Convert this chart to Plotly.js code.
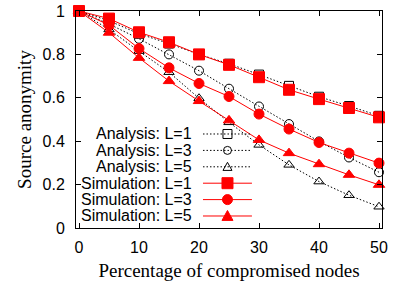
<!DOCTYPE html>
<html>
<head>
<meta charset="utf-8">
<script src="https://cdn.plot.ly/plotly-3.0.1.min.js"></script>
<style>html,body{margin:0;padding:0;background:#fff;}#chart{width:395px;height:288px;}</style>
</head>
<body>
<div id="chart"></div>
<script>
// Data
var compromised = [0, 5, 10, 15, 20, 25, 30, 35, 40, 45, 50];
var analysisL1 = [1, 0.955, 0.895, 0.85, 0.80, 0.757, 0.707, 0.655, 0.605, 0.562, 0.517];
var analysisL3 = [1, 0.94, 0.872, 0.80, 0.725, 0.642, 0.56, 0.479, 0.399, 0.325, 0.257];
var analysisL5 = [1, 0.915, 0.815, 0.718, 0.598, 0.487, 0.383, 0.291, 0.214, 0.151, 0.098];
var simulationL1 = [1, 0.965, 0.902, 0.856, 0.80, 0.752, 0.695, 0.637, 0.594, 0.553, 0.51];
var simulationL3 = [1, 0.935, 0.827, 0.738, 0.666, 0.606, 0.525, 0.456, 0.394, 0.345, 0.299];
var simulationL5 = [1, 0.90, 0.784, 0.677, 0.585, 0.496, 0.406, 0.345, 0.294, 0.245, 0.199];
var seriesNames = ["Analysis: L=1", "Analysis: L=3", "Analysis: L=5",
                   "Simulation: L=1", "Simulation: L=3", "Simulation: L=5"];
var xTitle = "Percentage of compromised nodes";
var yTitle = "Source anonymity";

var RED = "rgb(255,0,0)";
var DOTS = "1.5px,2px";
var series = [
  {y: analysisL1, sym: "square-open", size: 9, color: "black", dash: DOTS, kind: "rect", open: true},
  {y: analysisL3, sym: "circle-open", size: 9, color: "black", dash: DOTS, kind: "circle", open: true},
  {y: analysisL5, sym: "triangle-up-open", size: 9, color: "black", dash: DOTS, kind: "tri", open: true},
  {y: simulationL1, sym: "square", size: 11, color: RED, dash: "solid", kind: "rect", open: false},
  {y: simulationL3, sym: "circle", size: 10, color: RED, dash: "solid", kind: "circle", open: false},
  {y: simulationL5, sym: "triangle-up", size: 10, color: RED, dash: "solid", kind: "tri", open: false}
];

var traces = series.map(function (s, i) {
  return {
    x: compromised, y: s.y, name: seriesNames[i], type: "scatter", mode: "lines+markers",
    line: {color: s.color, width: 1, dash: s.dash},
    marker: {symbol: s.sym, size: s.size, color: s.color, line: {color: s.color, width: 1}},
    cliponaxis: false, showlegend: false
  };
});

// manual gnuplot-style key: text on the left, sample on the right
var keyTextX = 0.382, keyLineX0 = 0.415, keyLineX1 = 0.575, keyMarkX = 0.495;
var keyRows = [0.4332, 0.3576, 0.2820, 0.2065, 0.1309, 0.0553];
var annotations = [], shapes = [];
series.forEach(function (s, i) {
  var yr = keyRows[i];
  annotations.push({xref: "paper", yref: "paper", x: keyTextX, y: yr, xanchor: "right", yanchor: "middle",
    text: seriesNames[i], showarrow: false, borderpad: 0,
    font: {family: "Liberation Sans, Arial, sans-serif", size: 16, color: "black"}});
  shapes.push({type: "line", xref: "paper", yref: "paper", x0: keyLineX0, x1: keyLineX1, y0: yr, y1: yr,
    line: {color: s.color, width: 1, dash: s.dash}, layer: "above"});
  var fill = s.open ? "rgba(0,0,0,0)" : s.color;
  var r = s.open ? 4.5 : 5.5;
  var base = {xref: "paper", yref: "paper", xsizemode: "pixel", ysizemode: "pixel", xanchor: keyMarkX, yanchor: yr,
    fillcolor: fill, line: {color: s.color, width: 1}, layer: "above"};
  if (s.kind === "rect") {
    shapes.push(Object.assign({type: "rect", x0: -r, x1: r, y0: -r, y1: r}, base));
  } else if (s.kind === "circle") {
    shapes.push(Object.assign({type: "circle", x0: -r + 0.5, x1: r - 0.5, y0: -r + 0.5, y1: r - 0.5}, base));
  } else {
    shapes.push(Object.assign({type: "path", path: "M" + (-r) + "," + (-r * 0.8) + " L" + r + "," + (-r * 0.8) + " L0," + r + " Z"}, base));
  }
});

var axisCommon = {
  showline: true, linecolor: "black", linewidth: 1, mirror: "ticks",
  ticks: "inside", ticklen: 5, tickwidth: 1, tickcolor: "black",
  showgrid: false, zeroline: false,
  tickfont: {family: "Liberation Sans, Arial, sans-serif", size: 16, color: "black"}
};

var layout = {
  width: 395, height: 288,
  margin: {l: 76, r: 13, t: 11, b: 60},
  paper_bgcolor: "white", plot_bgcolor: "white",
  showlegend: false,
  xaxis: Object.assign({}, axisCommon, {
    range: [-0.5, 50.5], tickvals: [0, 10, 20, 30, 40, 50], ticklabelstandoff: 5,
    title: {text: xTitle, font: {family: "Liberation Serif, Times New Roman, serif", size: 19, color: "black"}, standoff: 8}
  }),
  yaxis: Object.assign({}, axisCommon, {
    range: [0, 1], tickvals: [0, 0.2, 0.4, 0.6, 0.8, 1], ticklabelstandoff: 7,
    title: {text: yTitle, font: {family: "Liberation Serif, Times New Roman, serif", size: 19, color: "black"}, standoff: 5}
  }),
  annotations: annotations,
  shapes: shapes
};

Plotly.newPlot("chart", traces, layout, {displayModeBar: false, staticPlot: true});
</script>
</body>
</html>
